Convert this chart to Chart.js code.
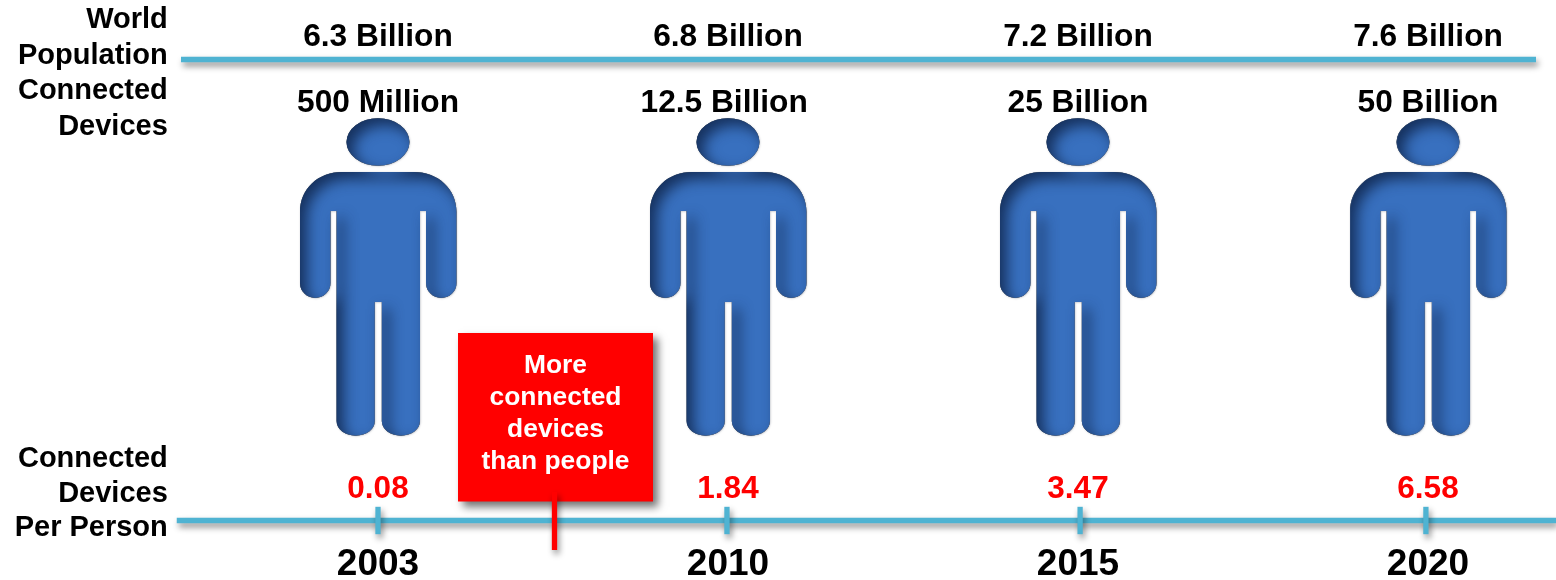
<!DOCTYPE html>
<html>
<head>
<meta charset="utf-8">
<title>Connected devices per person</title>
<script src="https://cdn.jsdelivr.net/npm/chart.js@4"></script>
<style>
  html, body { margin: 0; padding: 0; background: #fff; }
  canvas { display: block; }
</style>
</head>
<body>
<canvas id="chart" width="1556" height="580"></canvas>
<script>
// Milestone data
const years = ['2003', '2010', '2015', '2020'];
const worldPopulation = ['6.3 Billion', '6.8 Billion', '7.2 Billion', '7.6 Billion'];
const connectedDevices = ['500 Million', '12.5 Billion', '25 Billion', '50 Billion'];
const devicesPerPerson = [0.08, 1.84, 3.47, 6.58];
const rowTitlesTop = ['World', 'Population', 'Connected', 'Devices'];
const rowTitlesBottom = ['Connected', 'Devices', 'Per Person'];
const calloutLines = ['More', 'connected', 'devices', 'than people'];

// Slots are one unit per milestone; the vertical scale is a plain layout scale
const SLOT_MIN = -1.08, SLOT_MAX = 3.3657;
const ROW = { population: 37, populationRule: 59.5, devices: 103, person: 277, ratio: 489, timeline: 520.5 };
const FONT = '"Liberation Sans", Arial, sans-serif';
const TEAL = '#4FB3D2';
const RED = '#FF0000';
const CALLOUT = { left: 0.2286, right: 0.7857, top: 333, bottom: 501.5, stemSlot: 0.5043, stemTop: 492, stemBottom: 550 };
const deviceLabelSlots = [0, 0.989, 2, 3];

// Person pictogram with an inset shadow, used as the point style
function personIcon() {
  const c = document.createElement('canvas');
  c.width = 176; c.height = 336;
  const g = c.getContext('2d');
  const p = new Path2D();
  p.moveTo(-36, -105);
  p.lineTo(36, -105);
  p.bezierCurveTo(60, -105, 78.5, -88, 78.5, -65);
  p.lineTo(78.5, 6);
  p.ellipse(63.25, 6, 15.25, 15, 0, 0, Math.PI);
  p.lineTo(48, -66);
  p.lineTo(42, -66);
  p.lineTo(42, 144);
  p.ellipse(22.9, 144, 19.1, 14.7, 0, 0, Math.PI);
  p.lineTo(3.8, 25);
  p.lineTo(-3.2, 25);
  p.lineTo(-3.2, 144);
  p.ellipse(-22.3, 144, 19.1, 14.7, 0, 0, Math.PI);
  p.lineTo(-41.5, -66);
  p.lineTo(-47.5, -66);
  p.lineTo(-47.5, 6);
  p.ellipse(-62.75, 6, 15.25, 15, 0, 0, Math.PI);
  p.lineTo(-78, -65);
  p.bezierCurveTo(-78, -88, -60, -105, -36, -105);
  p.closePath();
  p.moveTo(31.5, -135);
  p.ellipse(0, -135, 31.5, 23.7, 0, 0, Math.PI * 2);
  p.closePath();

  g.translate(c.width / 2, c.height / 2);
  // faint rim around the silhouette
  g.save();
  g.shadowColor = 'rgba(60,70,90,0.35)';
  g.shadowBlur = 2;
  g.shadowOffsetX = 0.5;
  g.shadowOffsetY = 0.5;
  g.fillStyle = '#3870BF';
  g.fill(p);
  g.restore();
  // inset shadow from the top-left
  g.save();
  g.clip(p);
  const outside = new Path2D();
  outside.rect(-c.width, -c.height, c.width * 2, c.height * 2);
  outside.addPath(p);
  g.shadowColor = 'rgba(14,34,70,0.8)';
  g.shadowBlur = 14;
  g.shadowOffsetX = 7;
  g.shadowOffsetY = 7;
  g.fillStyle = '#000';
  g.fill(outside, 'evenodd');
  g.restore();
  return c;
}

// Soft drop shadow for datasets that ask for it
const datasetShadow = {
  id: 'datasetShadow',
  beforeDatasetDraw(chart, args) {
    const ds = chart.data.datasets[args.index];
    chart.ctx.save();
    if (ds.castShadow) {
      chart.ctx.shadowColor = 'rgba(0,0,0,0.45)';
      chart.ctx.shadowBlur = 6;
      chart.ctx.shadowOffsetX = 2;
      chart.ctx.shadowOffsetY = 4;
    }
  },
  afterDatasetDraw(chart) {
    chart.ctx.restore();
  }
};

function drawRow(ctx, x, y, text, size, color, align) {
  ctx.font = `bold ${size}px ${FONT}`;
  ctx.fillStyle = color;
  ctx.textAlign = align || 'center';
  ctx.textBaseline = 'middle';
  ctx.fillText(text, x, y);
}

// Callout box under the marks, all annotations over them
const annotations = {
  id: 'annotations',
  beforeDatasetsDraw(chart) {
    const { ctx, scales: { x, y } } = chart;
    const l = x.getPixelForValue(CALLOUT.left), r = x.getPixelForValue(CALLOUT.right);
    const t = y.getPixelForValue(CALLOUT.top), b = y.getPixelForValue(CALLOUT.bottom);
    ctx.save();
    ctx.shadowColor = 'rgba(0,0,0,0.55)';
    ctx.shadowBlur = 8;
    ctx.shadowOffsetX = 5;
    ctx.shadowOffsetY = 5;
    ctx.fillStyle = RED;
    ctx.fillRect(l, t, r - l, b - t);
    ctx.restore();
  },
  afterDatasetsDraw(chart) {
    const { ctx, scales: { x, y } } = chart;
    ctx.save();
    years.forEach((_, i) => {
      const px = x.getPixelForValue(i);
      drawRow(ctx, px, y.getPixelForValue(ROW.population), worldPopulation[i], 31.7, '#000');
      drawRow(ctx, x.getPixelForValue(deviceLabelSlots[i]), y.getPixelForValue(ROW.devices), connectedDevices[i], 31.7, '#000');
      drawRow(ctx, px, y.getPixelForValue(ROW.ratio), devicesPerPerson[i].toFixed(2), 31.5, RED);
    });
    const titleX = x.getPixelForValue(-0.6006);
    [20, 56, 91, 127].forEach((row, i) => drawRow(ctx, titleX, y.getPixelForValue(row), rowTitlesTop[i], 29, '#000', 'right'));
    [458.5, 493.5, 528].forEach((row, i) => drawRow(ctx, titleX, y.getPixelForValue(row), rowTitlesBottom[i], 29, '#000', 'right'));
    const boxCentre = x.getPixelForValue((CALLOUT.left + CALLOUT.right) / 2);
    [366, 398, 430, 462].forEach((row, i) => drawRow(ctx, boxCentre, y.getPixelForValue(row), calloutLines[i], 26.4, '#fff'));
    ctx.restore();
  }
};

new Chart(document.getElementById('chart'), {
  type: 'scatter',
  plugins: [datasetShadow, annotations],
  data: {
    datasets: [
      {
        label: 'Crossover marker',
        showLine: true,
        castShadow: true,
        data: [{ x: CALLOUT.stemSlot, y: CALLOUT.stemTop }, { x: CALLOUT.stemSlot, y: CALLOUT.stemBottom }],
        borderColor: RED,
        borderWidth: 5.3,
        pointRadius: 0
      },
      {
        label: 'Milestone ticks',
        castShadow: true,
        data: [0, 0.997, 2.006, 2.994].map(s => ({ x: s, y: ROW.timeline })),
        pointStyle: 'line',
        pointRotation: 90,
        pointRadius: 13.7,
        pointBorderWidth: 5.3,
        pointBorderColor: TEAL,
        pointBackgroundColor: TEAL
      },
      {
        label: 'Timeline',
        showLine: true,
        castShadow: true,
        data: [{ x: -0.575, y: ROW.timeline }, { x: SLOT_MAX, y: ROW.timeline }],
        borderColor: TEAL,
        borderWidth: 5.6,
        pointRadius: 0
      },
      {
        label: 'Population rule',
        showLine: true,
        castShadow: true,
        data: [{ x: -0.5629, y: ROW.populationRule }, { x: 3.3086, y: ROW.populationRule }],
        borderColor: TEAL,
        borderWidth: 5.6,
        pointRadius: 0
      },
      {
        label: 'People',
        data: years.map((_, i) => ({ x: i, y: ROW.person })),
        pointStyle: personIcon(),
        pointRadius: 1
      }
    ]
  },
  options: {
    responsive: false,
    animation: false,
    events: [],
    layout: { padding: 0, autoPadding: false },
    plugins: { legend: { display: false }, tooltip: { enabled: false } },
    scales: {
      x: {
        type: 'linear',
        min: SLOT_MIN,
        max: SLOT_MAX,
        position: { y: ROW.timeline },
        afterBuildTicks(scale) { scale.ticks = years.map((_, i) => ({ value: i })); },
        // the axis sits inside the plot and must not take space from it
        afterFit(scale) {
          scale.height = 0;
          scale.paddingLeft = scale.paddingRight = scale.paddingTop = scale.paddingBottom = 0;
        },
        border: { display: false },
        grid: { display: false, drawTicks: false },
        ticks: {
          autoSkip: false,
          maxRotation: 0,
          padding: 22.5,
          color: '#000',
          font: { family: FONT, weight: 'bold', size: 37 },
          callback: v => years[v]
        }
      },
      y: {
        type: 'linear',
        display: false,
        reverse: true,
        min: 0,
        max: 580
      }
    }
  }
});
</script>
</body>
</html>
